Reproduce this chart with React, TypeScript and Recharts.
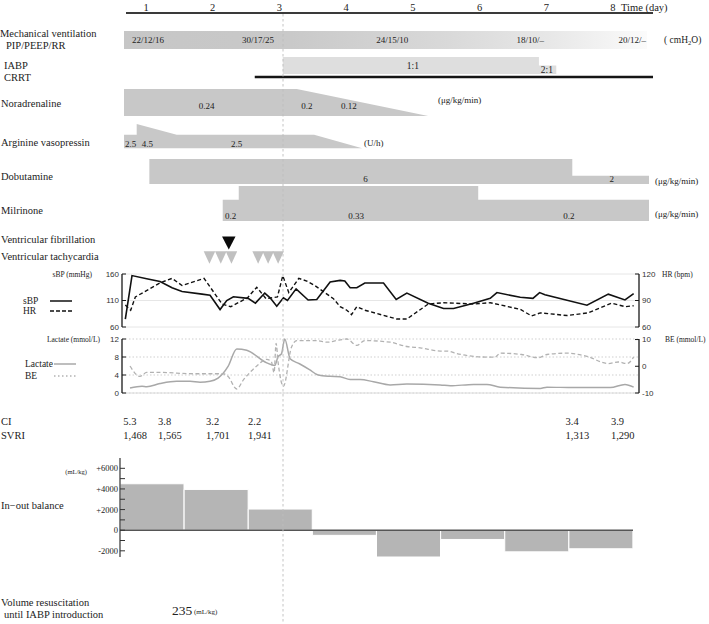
import React from 'react';
import {
  ComposedChart, BarChart, Area, Bar, Line, Scatter, XAxis, YAxis,
  CartesianGrid, ReferenceDot, ReferenceLine, Legend,
} from 'recharts';

const W = 709;
const H = 624;
const SERIF = '"Liberation Serif", "Times New Roman", serif';
const SANS = '"Liberation Sans", Arial, sans-serif';
const INK = '#222';

// time scale shared by every row: day 0.7 sits at x=126, 66.71 px per day
const X_AT_07 = 126;
const PX_DAY = 66.71;
const xPos = (t: number) => X_AT_07 + (t - 0.7) * PX_DAY;

// ---- time axis ----
const dayTicks = [1, 2, 3, 4, 5, 6, 7, 8];

// ---- devices ----
const ventilation = [{ t: 0.67, on: 1 }, { t: 8.51, on: 1 }];
const ventSettings = [
  { t: 1.03, label: '22/12/16' },
  { t: 2.68, label: '30/17/25' },
  { t: 4.69, label: '24/15/10' },
  { t: 6.76, label: '18/10/–' },
  { t: 8.29, label: '20/12/–' },
];
const iabp = [{ t: 3.05, assist: 1 }, { t: 6.89, assist: 0.5 }, { t: 7.15, assist: 0.5 }];
const iabpLabels = [{ t: 5.0, label: '1:1', assist: 1 }, { t: 7.01, label: '2:1', assist: 0.5 }];
const crrt = [{ t: 2.63, on: 0 }, { t: 8.6, on: 0 }];

// ---- drugs ----
const noradrenaline = [{ t: 0.67, dose: 0.24 }, { t: 3.26, dose: 0.24 }, { t: 5.23, dose: 0 }];
const noradrenalineLabels = [{ t: 1.91, label: '0.24' }, { t: 3.41, label: '0.2' }, { t: 4.04, label: '0.12' }];
const vasopressin = [
  { t: 0.67, dose: 2.5 }, { t: 0.86, dose: 2.5 }, { t: 0.86, dose: 4.5 },
  { t: 1.46, dose: 2.5 }, { t: 3.52, dose: 2.5 }, { t: 4.24, dose: 0 },
];
const vasopressinLabels = [{ t: 0.77, label: '2.5' }, { t: 1.02, label: '4.5' }, { t: 2.36, label: '2.5' }];
const dobutamine = [{ t: 1.05, dose: 6 }, { t: 7.39, dose: 2 }, { t: 8.54, dose: 2 }];
const dobutamineLabels = [{ t: 4.29, label: '6' }, { t: 7.98, label: '2' }];
const milrinone = [{ t: 2.15, dose: 0.2 }, { t: 2.39, dose: 0.33 }, { t: 5.98, dose: 0.2 }, { t: 8.54, dose: 0.2 }];
const milrinoneLabels = [{ t: 2.27, label: '0.2' }, { t: 4.15, label: '0.33' }, { t: 7.34, label: '0.2' }];

// ---- arrhythmias ----
const vfTimes = [2.24];
const vtTimes = [1.95, 2.12, 2.28, 2.68, 2.83, 2.98];

// ---- vitals ----
const sbp = [
  [0.69, 75], [0.79, 157], [1.01, 151], [1.21, 146], [1.39, 134], [1.54, 127], [1.84, 122], [1.96, 120],
  [2.11, 93], [2.21, 110], [2.31, 117], [2.53, 114], [2.64, 105], [2.78, 124], [2.86, 115], [2.96, 99],
  [3.06, 115], [3.12, 110], [3.25, 132], [3.43, 111], [3.56, 112], [3.76, 145], [3.91, 148], [3.98, 147],
  [4.06, 134], [4.16, 134], [4.28, 143], [4.56, 143], [4.75, 112], [4.91, 124], [5.23, 105], [5.46, 95],
  [5.61, 95], [5.91, 105], [6.16, 114], [6.26, 125], [6.61, 116], [6.8, 114], [6.9, 125], [6.98, 121],
  [7.61, 101], [7.93, 122], [8.18, 111], [8.31, 123],
];
const hr = [
  [0.69, 85], [0.77, 79], [0.84, 94], [1.21, 110], [1.39, 115], [1.54, 107], [1.87, 115], [2.14, 86],
  [2.27, 83], [2.52, 93], [2.66, 105], [2.8, 92], [2.97, 94], [3.05, 118], [3.14, 99], [3.29, 115],
  [3.41, 112], [3.53, 107], [3.81, 92], [3.91, 83], [4.01, 79], [4.08, 74], [4.16, 83], [4.28, 79],
  [4.76, 69], [4.91, 69], [5.23, 86], [5.46, 87.5], [5.91, 86], [6.16, 87.5], [6.31, 85], [6.61, 80],
  [6.78, 72.5], [6.91, 76], [7.31, 73], [7.63, 76], [7.98, 87], [8.18, 83], [8.31, 84],
];
const lactate = [
  [0.76, 1.1], [0.94, 1.5], [1.01, 1.4], [1.21, 2.1], [1.46, 2.6], [1.66, 2.6], [1.81, 2.4], [1.96, 2.6],
  [2.08, 3.3], [2.23, 5.9], [2.36, 9.8], [2.51, 9.5], [2.81, 6.7], [2.93, 6.1], [2.98, 8.1], [3.03, 8.7],
  [3.08, 12], [3.16, 7.6], [3.3, 6.5], [3.45, 5.2], [3.58, 4.0], [3.76, 3.7], [3.91, 3.6], [4.06, 3.0],
  [4.21, 3.0], [4.41, 2.5], [4.66, 1.8], [4.91, 2.0], [5.41, 1.8], [5.56, 1.6], [5.91, 1.9], [6.11, 1.9],
  [6.31, 1.3], [6.91, 1.0], [7.01, 1.3], [7.41, 1.2], [7.96, 1.2], [8.18, 1.9], [8.31, 1.3],
];
const be = [
  [0.76, 0.1], [0.91, -3.8], [1.01, -2.3], [1.21, -2.3], [1.71, -2.8], [2.16, -2.8], [2.23, -3.8],
  [2.36, -8.5], [2.46, -5.1], [2.66, 0.1], [2.81, 2.6], [2.88, 1.7], [2.92, -2.4], [2.95, 8.6], [2.98, 1.5],
  [3.06, -7.5], [3.18, 7.1], [3.26, 9.6], [3.56, 9.6], [3.71, 9.0], [3.91, 9.9], [4.01, 10.2], [4.16, 7.8],
  [4.28, 9.6], [4.66, 9.0], [4.91, 7.4], [5.11, 6.9], [5.41, 5.7], [5.51, 5.7], [5.66, 4.7], [6.16, 3.4],
  [6.23, 3.4], [6.31, 4.9], [6.63, 4.4], [6.88, 3.2], [7.01, 4.4], [7.31, 4.9], [7.61, 3.7], [7.93, 1.0],
  [8.08, 1.6], [8.21, 1.0], [8.31, 3.4],
];

// ---- haemodynamics ----
const hemoTimes = [0.66, 1.18, 1.9, 2.53, 7.29, 7.97];
const ci = [5.3, 3.8, 3.2, 2.2, 3.4, 3.9];
const svri = [1468, 1565, 1701, 1941, 1313, 1290];

// ---- fluid balance ----
const balanceDays = [1, 2, 3, 4, 5, 6, 7, 8];
const balance = [4500, 3950, 2050, -500, -2600, -900, -2100, -1800];
const balanceTicks = [-2000, -1000, 0, 1000, 2000, 3000, 4000, 5000, 6000];

const pts = (arr: number[][]) => arr.map(([t, v]) => ({ t, v }));
const balanceData = balanceDays.map((d, i) => ({ day: d, v: balance[i] }));

const ROW_DOMAIN: [number, number] = [0.6, 8.7];
const ROW_LEFT = xPos(0.6);
const ROW_RIGHT = W - xPos(8.7);

function Row({ top, height, yDomain, data, yKey, fixedY, children }: any) {
  return (
    <div style={{ position: 'absolute', left: 0, top, width: W, height }}>
      <ComposedChart width={W} height={height} data={data}
        margin={{ top: 0, bottom: 0, left: ROW_LEFT, right: ROW_RIGHT }}>
        <XAxis type="number" dataKey="t" domain={ROW_DOMAIN} hide />
        <YAxis type="number" dataKey={yKey} domain={yDomain} hide allowDataOverflow={!!fixedY} />
        {children}
      </ComposedChart>
    </div>
  );
}

const tag = (key: string, t: number, y: number, text: string, position: any, offset = 0, fontSize = 9) => (
  <ReferenceDot key={key} x={t} y={y} r={0} stroke="none" fill="none" ifOverflow="extendDomain"
    label={{ value: text, position, offset, fontSize, fill: INK, fontFamily: SERIF }} />
);

const triangle = (w: number, h: number, fill: string) => (p: any) => (
  <polygon
    points={`${p.cx - w / 2},${p.cy - h / 2} ${p.cx + w / 2},${p.cy - h / 2} ${p.cx},${p.cy + h / 2}`}
    fill={fill} />
);

const keyOrder = ['sBP', 'HR', 'Lactate', 'BE'];
const keyDash: Record<string, string | undefined> = { sBP: undefined, HR: '4 2', Lactate: undefined, BE: '1.5 2.5' };
const makeKey = (labelW: number, rowH: number) => (props: any) => {
  const items = [...(props.payload || [])].sort((a: any, b: any) => keyOrder.indexOf(a.value) - keyOrder.indexOf(b.value));
  return (
    <div style={{ fontFamily: SERIF, fontSize: 9.5, color: INK }}>
      {items.map((e: any) => (
        <div key={e.value} style={{ display: 'flex', alignItems: 'center', height: rowH }}>
          <span style={{ width: labelW }}>{e.value}</span>
          <svg width={22} height={4}>
            <line x1={0} x2={22} y1={2} y2={2} stroke={e.color} strokeWidth={1.5} strokeDasharray={keyDash[e.value]} />
          </svg>
        </div>
      ))}
    </div>
  );
};

const T = ({ x, y, s = 10.5, anchor = 'start', font = SERIF, children }: any) => (
  <text x={x} y={y} fontSize={s} fontFamily={font} fill={INK} dominantBaseline="central" textAnchor={anchor}>
    {children}
  </text>
);

const axisTick = { fontSize: 8, fill: '#333', fontFamily: SANS };

export default function App() {
  return (
    <div style={{ position: 'absolute', left: 0, top: 0, width: W, height: H, background: '#fff', fontFamily: SERIF, color: INK }}>
      <style>{'.recharts-surface{overflow:visible}'}</style>

      {/* time axis */}
      <div style={{ position: 'absolute', left: 0, top: 0 }}>
        <ComposedChart width={W} height={20} data={dayTicks.map((d) => ({ t: d }))}
          margin={{ top: 0, bottom: 0, left: xPos(0.7), right: W - xPos(8.6) }}>
          <XAxis type="number" dataKey="t" orientation="top" domain={[0.7, 8.6]} ticks={dayTicks} interval={0}
            height={13} tickSize={0} tickMargin={2.5} axisLine={{ stroke: '#3a3a3a', strokeWidth: 2 }}
            tick={{ fontSize: 10.5, fill: INK, fontFamily: SERIF }} />
          <YAxis hide />
        </ComposedChart>
      </div>

      {/* mechanical ventilation */}
      <Row top={31} height={18} yDomain={[0, 1]} data={ventilation}>
        <defs>
          <linearGradient id="ventGrad" x1="0" y1="0" x2="1" y2="0">
            <stop offset="0" stopColor="#c6c6c6" />
            <stop offset="0.32" stopColor="#c9c9c9" />
            <stop offset="0.62" stopColor="#d9d9d9" />
            <stop offset="0.81" stopColor="#e7e7e7" />
            <stop offset="1" stopColor="#fbfbfb" />
          </linearGradient>
        </defs>
        <Area type="linear" dataKey="on" stroke="none" fill="url(#ventGrad)" fillOpacity={1} isAnimationActive={false} />
        {ventSettings.map((d, i) => tag('v' + i, d.t, 0.5, d.label, 'center'))}
      </Row>

      {/* IABP */}
      <Row top={57} height={17} yDomain={[0, 1]} data={iabp}>
        <Area type="stepAfter" dataKey="assist" stroke="none" fill="#dedede" fillOpacity={1} isAnimationActive={false} />
        {iabpLabels.map((d, i) => tag('i' + i, d.t, d.assist / 2, d.label, 'center', 0, 9.5))}
      </Row>

      {/* CRRT */}
      <Row top={74} height={6} yDomain={[-1, 1]} data={crrt}>
        <Line type="linear" dataKey="on" stroke="#151515" strokeWidth={2.6} dot={false} isAnimationActive={false} />
      </Row>

      {/* noradrenaline */}
      <Row top={89} height={27} yDomain={[0, 0.24]} data={noradrenaline}>
        <Area type="linear" dataKey="dose" stroke="none" fill="#c8c8c8" fillOpacity={1} isAnimationActive={false} />
        {noradrenalineLabels.map((d, i) => tag('n' + i, d.t, 0, d.label, 'top', 7))}
      </Row>

      {/* vasopressin */}
      <Row top={124} height={24.3} yDomain={[0, 4.5]} data={vasopressin}>
        <Area type="linear" dataKey="dose" stroke="none" fill="#c8c8c8" fillOpacity={1} isAnimationActive={false} />
        {vasopressinLabels.map((d, i) => tag('a' + i, d.t, 0, d.label, 'top', 1.5))}
      </Row>

      {/* dobutamine */}
      <Row top={159} height={25} yDomain={[0, 6]} data={dobutamine}>
        <Area type="stepAfter" dataKey="dose" stroke="none" fill="#c8c8c8" fillOpacity={1} isAnimationActive={false} />
        {dobutamineLabels.map((d, i) => tag('d' + i, d.t, 0, d.label, 'top', 2.5))}
      </Row>

      {/* milrinone */}
      <Row top={185.7} height={35} yDomain={[0, 0.33]} data={milrinone}>
        <Area type="stepAfter" dataKey="dose" stroke="none" fill="#c8c8c8" fillOpacity={1} isAnimationActive={false} />
        {milrinoneLabels.map((d, i) => tag('m' + i, d.t, 0, d.label, 'top', 2))}
      </Row>

      {/* arrhythmias */}
      <Row top={243.4} height={14.6} yDomain={[0, 1]} yKey="row">
        <Scatter data={vfTimes.map((t) => ({ t, row: 1 }))} shape={triangle(13.5, 13, '#0a0a0a')} isAnimationActive={false} />
        <Scatter data={vtTimes.map((t) => ({ t, row: 0 }))} shape={triangle(11.5, 12.5, '#c0c0c0')} isAnimationActive={false} />
      </Row>

      {/* sBP / HR */}
      <div style={{ position: 'absolute', left: 0, top: 274 }}>
        <ComposedChart width={W} height={53} margin={{ top: 0, bottom: 0, left: 92, right: 40 }}>
          <CartesianGrid yAxisId="bp" vertical={false} stroke="#e6e6e6" />
          <XAxis type="number" dataKey="t" domain={[0.64, 8.39]} hide />
          <YAxis yAxisId="bp" width={30} domain={[60, 160]} ticks={[60, 110, 160]} interval={0}
            tickSize={-4} tickMargin={7} tick={axisTick}
            axisLine={{ stroke: '#1a1a1a', strokeWidth: 1.3 }} tickLine={{ stroke: '#1a1a1a' }} />
          <YAxis yAxisId="hr" orientation="right" width={30} domain={[60, 120]} ticks={[60, 90, 120]} interval={0}
            tickSize={-4} tickMargin={7} tick={axisTick}
            axisLine={{ stroke: '#1a1a1a', strokeWidth: 1.3 }} tickLine={{ stroke: '#1a1a1a' }} />
          <Line yAxisId="bp" data={pts(sbp)} dataKey="v" name="sBP" type="linear" stroke="#111" strokeWidth={1.6}
            dot={false} isAnimationActive={false} />
          <Line yAxisId="hr" data={pts(hr)} dataKey="v" name="HR" type="linear" stroke="#111" strokeWidth={1.4}
            strokeDasharray="4 2.5" dot={false} isAnimationActive={false} />
          <Legend layout="vertical" align="center" verticalAlign="middle" content={makeKey(27, 10.5)}
            wrapperStyle={{ left: 23, top: 21.5 }} />
        </ComposedChart>
      </div>

      {/* lactate / BE */}
      <div style={{ position: 'absolute', left: 0, top: 339 }}>
        <ComposedChart width={W} height={54} margin={{ top: 0, bottom: 0, left: 92, right: 40 }}>
          <CartesianGrid yAxisId="lac" vertical={false} stroke="#cfcfcf" strokeDasharray="1.5 2" />
          <XAxis type="number" dataKey="t" domain={[0.64, 8.39]} hide />
          <YAxis yAxisId="lac" width={30} domain={[0, 12]} ticks={[0, 4, 8, 12]} interval={0}
            tickSize={-4} tickMargin={7} tick={axisTick}
            axisLine={{ stroke: '#1a1a1a', strokeWidth: 1.3 }} tickLine={{ stroke: '#1a1a1a' }} />
          <YAxis yAxisId="be" orientation="right" width={30} domain={[-10, 10]} ticks={[-10, 0, 10]} interval={0}
            tickSize={-4} tickMargin={7} tick={axisTick}
            axisLine={{ stroke: '#1a1a1a', strokeWidth: 1.3 }} tickLine={{ stroke: '#1a1a1a' }} />
          <ReferenceLine yAxisId="lac" y={0} stroke="#dcdcdc" />
          <Line yAxisId="lac" data={pts(lactate)} dataKey="v" name="Lactate" type="monotone" stroke="#a8a8a8"
            strokeWidth={1.5} dot={false} isAnimationActive={false} />
          <Line yAxisId="be" data={pts(be)} dataKey="v" name="BE" type="monotone" stroke="#b2b2b2"
            strokeWidth={1.3} strokeDasharray="4 2.5" dot={false} isAnimationActive={false} />
          <Legend layout="vertical" align="center" verticalAlign="middle" content={makeKey(29, 12)}
            wrapperStyle={{ left: 25, top: 19 }} />
        </ComposedChart>
      </div>

      {/* CI / SVRI */}
      <Row top={421} height={14} yDomain={[0, 1]} fixedY data={hemoTimes.map((t) => ({ t }))}>
        {hemoTimes.map((t, i) => tag('c' + i, t, 1, ci[i].toFixed(1), 'right', 0, 10.5))}
        {hemoTimes.map((t, i) => tag('s' + i, t, 0, svri[i].toLocaleString('en-US'), 'right', 0, 10.5))}
      </Row>

      {/* in-out balance */}
      <div style={{ position: 'absolute', left: 0, top: 458 }}>
        <BarChart width={W} height={99} data={balanceData} barCategoryGap={0}
          margin={{ top: 0, bottom: 0, left: 80, right: 76 }}>
          <XAxis dataKey="day" hide />
          <YAxis width={40} domain={[-2500, 7000]} ticks={balanceTicks} interval={0}
            tickFormatter={(v: number) => (v === 0 ? '0' : v % 2000 ? '' : v > 0 ? `+${v}` : `${v}`)}
            tickSize={-5} tickMargin={7} tick={{ fontSize: 8.5, fill: INK, fontFamily: SERIF }}
            axisLine={{ stroke: '#333', strokeWidth: 1.2 }} tickLine={{ stroke: '#333' }} />
          <Bar dataKey="v" fill="#b5b5b5" stroke="#fff" strokeWidth={1} isAnimationActive={false} />
          <ReferenceLine y={0} stroke="#555" strokeWidth={1.5} />
        </BarChart>
      </div>

      {/* static labels */}
      <svg width={W} height={H} style={{ position: 'absolute', left: 0, top: 0, pointerEvents: 'none' }}>
        <line x1={283} x2={283} y1={14} y2={H} stroke="#bdbdbd" strokeWidth={0.9} strokeDasharray="2.5 2.5" />
        <T x={621} y={7}>Time (day)</T>
        <T x={0} y={33}>Mechanical ventilation</T>
        <T x={6} y={45}>PIP/PEEP/RR</T>
        <T x={664} y={40} s={9.5}>( cmH<tspan dy={2} fontSize={6.5}>2</tspan><tspan dy={-2}>O)</tspan></T>
        <T x={4} y={65}>IABP</T>
        <T x={4} y={77}>CRRT</T>
        <T x={1} y={103}>Noradrenaline</T>
        <T x={438} y={100} s={9}>(μg/kg/min)</T>
        <T x={1} y={142}>Arginine vasopressin</T>
        <T x={364} y={143} s={9}>(U/h)</T>
        <T x={1} y={176}>Dobutamine</T>
        <T x={655} y={181} s={9}>(μg/kg/min)</T>
        <T x={1} y={210}>Milrinone</T>
        <T x={655} y={214} s={9}>(μg/kg/min)</T>
        <T x={1} y={239}>Ventricular fibrillation</T>
        <T x={1} y={256}>Ventricular tachycardia</T>
        <T x={92} y={274} s={7.5} anchor="end">sBP (mmHg)</T>
        <T x={662} y={274} s={7.5}>HR (bpm)</T>
        <T x={100} y={339} s={7.5} anchor="end">Lactate (mmol/L)</T>
        <T x={665} y={339} s={7.5}>BE (mmol/L)</T>
        <T x={1} y={421}>CI</T>
        <T x={1} y={435}>SVRI</T>
        <T x={87} y={471.5} s={6.5} anchor="end">(mL/kg)</T>
        <T x={1} y={505}>In−out balance</T>
        <T x={1} y={602}>Volume resuscitation</T>
        <T x={4} y={614}>until IABP introduction</T>
        <T x={172} y={610} s={13.5}>235</T>
        <T x={194} y={612} s={7}>(mL/kg)</T>
      </svg>
    </div>
  );
}
